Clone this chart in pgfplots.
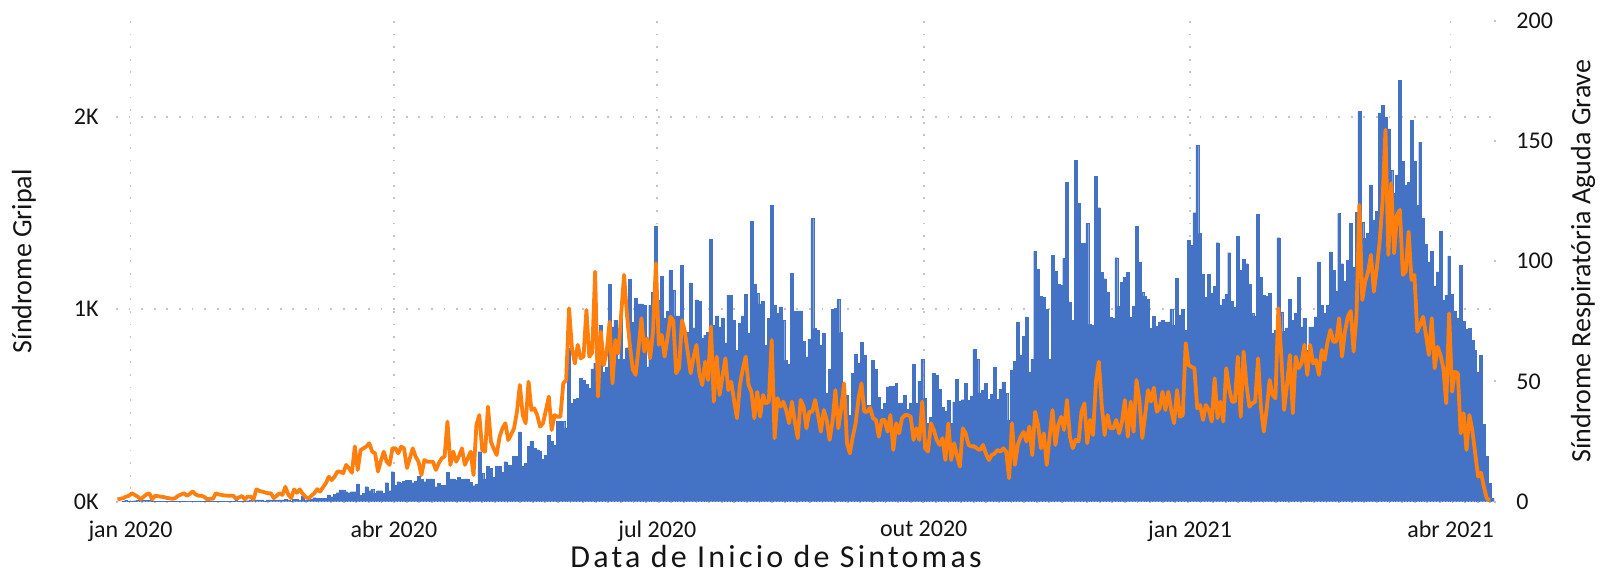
\documentclass[border=0pt]{standalone}
\usepackage{fontspec}
\setmainfont{Carlito}
\newfontfamily\titlefont[LetterSpace=10]{Carlito}
\usepackage{pgfplots}
\pgfplotsset{compat=1.18}
\definecolor{barblue}{RGB}{68,114,196}
\definecolor{lineor}{RGB}{255,127,14}
\definecolor{gridc}{RGB}{196,196,196}
\definecolor{txt}{RGB}{20,20,20}
\begin{document}
\begin{tikzpicture}
\pgfplotsset{
  common/.style={
    scale only axis, width=689pt, height=240.55pt,
    xmin=-5.5, xmax=470.5,
    tick label style={font=\fontsize{12}{14}\selectfont, text=txt},
    label style={font=\fontsize{14}{16}\selectfont, text=txt},
  }
}
\begin{axis}[common,
  ymin=0, ymax=2500,
  axis line style={draw=none},
  major tick style={draw=none},
  xtick pos=bottom, ytick pos=left,
  xtick={-0.5,90.5,181.5,273.5,365.5,455.5},
  xticklabels={jan 2020,abr 2020,jul 2020,out 2020,jan 2021,abr 2021},
  ytick={0,1000,2000},
  yticklabels={0K,1K,2K},
  xmajorgrids, ymajorgrids,
  grid style={gridc, line width=0.9pt, dash pattern=on 0.9pt off 5.4pt},
  yticklabel style={anchor=east, inner sep=0pt, xshift=-8.5pt},
  xticklabel style={anchor=north, inner sep=0pt, yshift=-9.5pt},
  ylabel={Síndrome Gripal},
  ylabel style={at={(axis description cs:-0.0668,0.5)}, anchor=center, rotate=0},
  xlabel={Data de Inicio de Sintomas},
  xlabel style={at={(axis description cs:0.479,-0.1375)}, anchor=base, font=\titlefont\fontsize{16}{18}\selectfont},
]
\addplot[ybar, bar width=1, fill=barblue, draw=barblue, line width=0.15pt] coordinates {
(-5,0)(-4,0)(-3,3)(-2,8)(-1,2)(0,3)(1,5)(2,8)(3,8)(4,6)(5,8)(6,8)(7,3)(8,2)(9,1)(10,2)(11,1)(12,2)(13,1)(14,1)(15,2)(16,1)(17,2)(18,2)(19,1)(20,2)(21,1)(22,2)(23,1)(24,2)(25,1)(26,1)(27,2)(28,1)(29,2)(30,2)(31,1)(32,2)(33,3)(34,2)(35,3)(36,6)(37,3)(38,4)(39,2)(40,5)(41,9)(42,9)(43,9)(44,9)(45,10)(46,4)(47,9)(48,9)(49,9)(50,10)(51,10)(52,10)(53,11)(54,10)(55,4)(56,12)(57,12)(58,8)(59,30)(60,9)(61,9)(62,15)(63,21)(64,16)(65,16)(66,16)(67,16)(68,35)(69,26)(70,38)(71,47)(72,61)(73,61)(74,52)(75,47)(76,52)(77,52)(78,92)(79,35)(80,43)(81,78)(82,57)(83,64)(84,43)(85,57)(86,57)(87,43)(88,99)(89,57)(90,156)(91,85)(92,104)(93,95)(94,107)(95,112)(96,112)(97,99)(98,105)(99,133)(100,116)(101,104)(102,118)(103,118)(104,118)(105,78)(106,95)(107,86)(108,86)(109,153)(110,118)(111,118)(112,112)(113,126)(114,116)(115,118)(116,118)(117,101)(118,83)(119,90)(120,260)(121,147)(122,118)(123,185)(124,173)(125,127)(126,185)(127,185)(128,153)(129,208)(130,190)(131,190)(132,237)(133,237)(134,363)(135,185)(136,198)(137,289)(138,315)(139,277)(140,270)(141,263)(142,222)(143,242)(144,346)(145,315)(146,294)(147,419)(148,419)(149,419)(150,381)(151,796)(152,511)(153,533)(154,536)(155,640)(156,630)(157,610)(158,588)(159,690)(160,720)(161,760)(162,917)(163,675)(164,700)(165,1128)(166,908)(167,944)(168,741)(169,952)(170,741)(171,800)(172,1156)(173,931)(174,1056)(175,1028)(176,1028)(177,1022)(178,700)(179,1020)(180,1087)(181,1431)(182,1049)(183,1171)(184,955)(185,990)(186,1202)(187,1099)(188,965)(189,965)(190,1228)(191,882)(192,882)(193,1137)(194,903)(195,1049)(196,1040)(197,848)(198,865)(199,880)(200,1363)(201,917)(202,965)(203,908)(204,955)(205,825)(206,1073)(207,1073)(208,943)(209,787)(210,926)(211,965)(212,1078)(213,874)(214,1457)(215,1128)(216,1084)(217,1028)(218,1041)(219,813)(220,952)(221,1540)(222,1020)(223,978)(224,1013)(225,944)(226,735)(227,714)(228,1188)(229,990)(230,991)(231,991)(232,834)(233,753)(234,844)(235,1471)(236,900)(237,891)(238,813)(239,874)(240,563)(241,689)(242,1000)(243,1004)(244,1050)(245,879)(246,554)(247,554)(248,450)(249,666)(250,765)(251,718)(252,827)(253,761)(254,502)(255,502)(256,735)(257,689)(258,542)(259,481)(260,511)(261,597)(262,600)(263,600)(264,614)(265,511)(266,514)(267,554)(268,481)(269,514)(270,715)(271,511)(272,626)(273,741)(274,537)(275,407)(276,438)(277,666)(278,658)(279,585)(280,490)(281,471)(282,528)(283,407)(284,519)(285,637)(286,523)(287,530)(288,614)(289,528)(290,549)(291,793)(292,741)(293,566)(294,580)(295,614)(296,533)(297,559)(298,701)(299,533)(300,585)(301,623)(302,563)(303,424)(304,684)(305,730)(306,934)(307,761)(308,861)(309,960)(310,675)(311,741)(312,1301)(313,1208)(314,1068)(315,1062)(316,1000)(317,741)(318,1280)(319,1200)(320,1130)(321,1125)(322,1263)(323,1661)(324,1038)(325,943)(326,1773)(327,1549)(328,1341)(329,1341)(330,1445)(331,922)(332,917)(333,1690)(334,1528)(335,1191)(336,1159)(337,1090)(338,960)(339,952)(340,1268)(341,1016)(342,1139)(343,1165)(344,1191)(345,957)(346,1016)(347,1431)(348,1244)(349,1087)(350,1068)(351,1052)(352,900)(353,964)(354,912)(355,934)(356,943)(357,934)(358,934)(359,1000)(360,917)(361,1161)(362,969)(363,1000)(364,891)(365,1358)(366,1331)(367,1502)(368,1851)(369,1393)(370,1182)(371,1062)(372,1182)(373,1085)(374,1120)(375,1346)(376,1021)(377,1052)(378,1078)(379,1294)(380,1042)(381,1009)(382,1379)(383,1202)(384,1258)(385,1237)(386,1130)(387,978)(388,964)(389,1492)(390,1165)(391,1073)(392,1068)(393,1084)(394,874)(395,891)(396,1372)(397,986)(398,884)(399,903)(400,1050)(401,943)(402,978)(403,1165)(404,908)(405,952)(406,787)(407,908)(408,908)(409,960)(410,1246)(411,1021)(412,978)(413,1021)(414,1298)(415,1202)(416,1094)(417,1497)(418,1237)(419,1145)(420,1254)(421,1445)(422,1220)(423,1505)(424,2028)(425,1453)(426,1370)(427,1393)(428,1647)(429,1462)(430,1509)(431,2021)(432,2059)(433,2000)(434,1938)(435,1722)(436,1601)(437,1696)(438,2189)(439,1768)(440,1647)(441,1658)(442,1981)(443,1768)(444,1540)(445,1868)(446,1474)(447,1336)(448,1246)(449,1301)(450,1121)(451,1194)(452,1405)(453,1047)(454,1073)(455,1277)(456,1078)(457,991)(458,955)(459,1228)(460,938)(461,895)(462,900)(463,840)(464,787)(465,675)(466,761)(467,403)(468,237)(469,95)(470,19)
};
\end{axis}
\begin{axis}[common,
  ymin=0, ymax=200,
  axis y line*=right,
  axis x line=none,
  y axis line style={draw=none},
  ytick={0,50,100,150,200},
  yticklabels={0,50,100,150,200},
  major tick length=1pt,
  tick align=outside,
  ytick style={gridc, line width=1pt},
  yticklabel style={anchor=west, inner sep=0pt, xshift=10pt},
  ylabel={Síndrome Respiratória Aguda Grave},
  ylabel style={at={(axis description cs:1.0646,0.5)}, anchor=center, rotate=0},
]
\addplot[lineor, line width=1.9pt, line join=round, mark=none] coordinates {
(-5,1.0)(-4,1.2)(-3,1.5)(-2,2.1)(-1,2.5)(0,3.5)(1,2.8)(2,2.1)(3,1.0)(4,2.0)(5,3.0)(6,3.5)(7,1.0)(8,2.5)(9,2.3)(10,2.1)(11,1.9)(12,1.6)(13,1.4)(14,1.2)(15,1.5)(16,2.5)(17,3.0)(18,3.5)(19,2.5)(20,3.2)(21,4.3)(22,3.0)(23,2.5)(24,2.5)(25,2.0)(26,1.0)(27,1.2)(28,1.2)(29,3.5)(30,3.0)(31,2.8)(32,2.6)(33,2.5)(34,2.5)(35,2.5)(36,1.2)(37,1.8)(38,2.4)(39,1.0)(40,2.1)(41,2.1)(42,1.0)(43,5.1)(44,4.5)(45,4.2)(46,3.8)(47,3.5)(48,3.5)(49,1.5)(50,2.5)(51,3.5)(52,2.8)(53,6.2)(54,3.0)(55,1.5)(56,5.1)(57,3.7)(58,5.1)(59,3.3)(60,2.0)(61,1.4)(62,2.5)(63,3.5)(64,5.2)(65,4.2)(66,6.0)(67,7.7)(68,10.4)(69,9.0)(70,10.4)(71,12.5)(72,12.5)(73,11.8)(74,15.3)(75,13.9)(76,12.0)(77,23.0)(78,13.2)(79,21.5)(80,22.2)(81,23.0)(82,24.3)(83,20.8)(84,20.1)(85,12.5)(86,17.0)(87,20.8)(88,16.6)(89,15.3)(90,22.2)(91,22.2)(92,20.1)(93,22.9)(94,22.2)(95,14.0)(96,18.0)(97,22.2)(98,18.7)(99,16.6)(100,11.1)(101,17.3)(102,16.6)(103,16.6)(104,16.6)(105,13.2)(106,16.0)(107,18.0)(108,18.8)(109,33.3)(110,15.3)(111,20.8)(112,16.6)(113,19.0)(114,22.2)(115,15.3)(116,18.0)(117,20.8)(118,11.1)(119,31.9)(120,36.0)(121,21.5)(122,20.8)(123,39.5)(124,25.0)(125,22.0)(126,19.4)(127,27.0)(128,30.5)(129,32.6)(130,25.6)(131,28.0)(132,30.5)(133,37.4)(134,48.5)(135,36.0)(136,32.6)(137,49.9)(138,38.1)(139,38.8)(140,36.0)(141,31.2)(142,32.6)(143,38.0)(144,43.7)(145,29.8)(146,36.0)(147,35.3)(148,35.3)(149,49.2)(150,50.6)(151,80.4)(152,63.8)(153,57.5)(154,65.2)(155,59.6)(156,60.3)(157,79.7)(158,60.3)(159,62.0)(160,95.6)(161,43.7)(162,70.7)(163,56.8)(164,62.4)(165,74.8)(166,49.2)(167,67.2)(168,61.7)(169,78.0)(170,94.3)(171,77.6)(172,65.0)(173,55.0)(174,52.7)(175,63.8)(176,76.3)(177,62.4)(178,67.9)(179,59.6)(180,70.7)(181,99.1)(182,65.2)(183,69.3)(184,60.3)(185,68.0)(186,76.9)(187,75.4)(188,53.4)(189,55.5)(190,75.4)(191,70.7)(192,62.0)(193,53.4)(194,60.0)(195,65.2)(196,53.4)(197,48.5)(198,58.2)(199,50.6)(200,72.8)(201,41.6)(202,60.3)(203,44.4)(204,52.0)(205,59.6)(206,46.4)(207,49.9)(208,42.0)(209,34.7)(210,48.5)(211,55.0)(212,60.3)(213,48.5)(214,45.7)(215,34.7)(216,45.7)(217,35.3)(218,44.4)(219,40.9)(220,41.6)(221,67.2)(222,26.4)(223,43.0)(224,39.5)(225,41.6)(226,38.0)(227,32.6)(228,41.6)(229,33.0)(230,26.4)(231,42.3)(232,39.5)(233,30.5)(234,37.4)(235,37.4)(236,42.3)(237,36.0)(238,29.1)(239,38.1)(240,34.0)(241,25.7)(242,33.3)(243,46.4)(244,30.5)(245,38.8)(246,49.2)(247,24.3)(248,20.1)(249,27.0)(250,32.6)(251,43.0)(252,49.2)(253,37.4)(254,37.4)(255,39.1)(256,34.7)(257,34.0)(258,27.0)(259,34.0)(260,34.0)(261,29.1)(262,36.0)(263,21.5)(264,32.6)(265,28.4)(266,34.7)(267,36.0)(268,36.0)(269,35.3)(270,25.7)(271,30.5)(272,25.7)(273,41.6)(274,22.2)(275,20.8)(276,32.6)(277,29.8)(278,25.7)(279,23.6)(280,26.4)(281,17.3)(282,32.6)(283,17.3)(284,24.3)(285,19.0)(286,14.6)(287,30.5)(288,28.4)(289,23.6)(290,23.0)(291,23.0)(292,22.0)(293,21.5)(294,23.6)(295,20.0)(296,17.3)(297,19.4)(298,20.0)(299,21.5)(300,20.8)(301,22.2)(302,20.8)(303,9.7)(304,32.6)(305,15.3)(306,23.6)(307,27.0)(308,29.0)(309,25.0)(310,31.2)(311,19.4)(312,37.4)(313,31.9)(314,22.2)(315,28.4)(316,15.3)(317,27.0)(318,38.1)(319,23.6)(320,31.9)(321,35.3)(322,29.8)(323,42.3)(324,27.0)(325,22.2)(326,25.7)(327,25.0)(328,37.4)(329,40.9)(330,24.3)(331,34.0)(332,27.7)(333,50.0)(334,58.2)(335,40.2)(336,27.7)(337,36.0)(338,30.5)(339,30.5)(340,34.0)(341,28.4)(342,33.3)(343,42.3)(344,27.0)(345,41.6)(346,29.1)(347,50.6)(348,42.3)(349,26.4)(350,36.0)(351,46.4)(352,41.6)(353,47.4)(354,37.4)(355,38.8)(356,45.7)(357,38.1)(358,45.7)(359,38.1)(360,32.6)(361,46.4)(362,35.3)(363,36.0)(364,65.9)(365,56.8)(366,56.1)(367,55.5)(368,38.8)(369,40.2)(370,34.0)(371,40.2)(372,38.1)(373,33.3)(374,51.3)(375,34.7)(376,41.6)(377,33.3)(378,55.5)(379,47.2)(380,41.6)(381,41.6)(382,60.3)(383,35.3)(384,62.4)(385,48.5)(386,39.5)(387,40.9)(388,41.6)(389,59.6)(390,38.8)(391,29.1)(392,38.8)(393,50.6)(394,44.4)(395,43.0)(396,80.4)(397,61.0)(398,38.1)(399,48.5)(400,61.0)(401,36.8)(402,60.3)(403,55.5)(404,57.5)(405,65.2)(406,52.7)(407,65.2)(408,57.5)(409,58.9)(410,52.7)(411,63.1)(412,58.9)(413,66.5)(414,71.4)(415,66.5)(416,66.5)(417,76.3)(418,60.3)(419,70.7)(420,76.9)(421,79.3)(422,62.4)(423,77.6)(424,123.4)(425,83.9)(426,91.5)(427,95.6)(428,102.6)(429,87.3)(430,97.0)(431,108.1)(432,124.7)(433,154.6)(434,102.6)(435,132.4)(436,103.3)(437,119.2)(438,121.3)(439,94.3)(440,95.6)(441,112.3)(442,92.2)(443,94.3)(444,70.7)(445,73.5)(446,76.9)(447,69.3)(448,61.0)(449,76.3)(450,55.5)(451,64.4)(452,61.0)(453,55.5)(454,40.9)(455,78.3)(456,45.7)(457,54.0)(458,53.4)(459,28.4)(460,36.8)(461,21.5)(462,36.0)(463,29.8)(464,20.1)(465,10.4)(466,12.1)(467,6.2)(468,1.4)(469,0.5)
};
\end{axis}
\pgfresetboundingbox
\path[use as bounding box] ([xshift=-58pt,yshift=-35.65pt]current axis.south west) rectangle ([xshift=59pt,yshift=10.3pt]current axis.north east);
\end{tikzpicture}
\end{document}
